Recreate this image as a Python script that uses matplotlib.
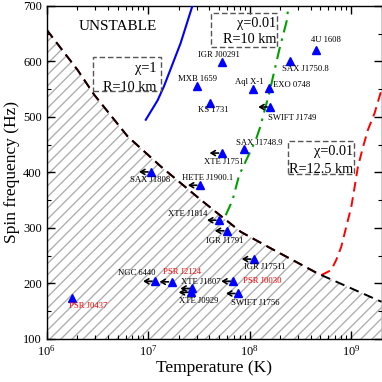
import matplotlib
matplotlib.use("Agg")
import matplotlib.pyplot as plt
import matplotlib.transforms as mtransforms
from matplotlib.patches import Rectangle
from matplotlib.ticker import MultipleLocator, LogLocator, NullFormatter

plt.rcParams['font.family'] = ['Liberation Serif', 'DejaVu Serif']
plt.rcParams['mathtext.fontset'] = 'custom'
plt.rcParams['mathtext.rm'] = 'Liberation Serif'
plt.rcParams['mathtext.it'] = 'Liberation Serif:italic'
plt.rcParams['hatch.linewidth'] = 1.0

# r-mode instability window boundaries
bound_T = [1e6, 2.01e6, 2.94e6, 6.28e6, 1.35e7, 3.24e7, 8.2e7, 1.75e8, 4.71e8, 2.0e9]
bound_f = [657, 585, 540, 465, 410, 352, 293, 260, 218, 167]

red_T = [1e6, 2.01e6, 2.94e6, 6.28e6, 1.35e7, 3.24e7, 8.2e7, 1.75e8, 4.71e8, 5.08e8,
         6.38e8, 7.14e8, 8.02e8, 8.98e8, 1.007e9, 1.087e9, 1.17e9, 1.315e9, 1.47e9,
         1.71e9, 2.0e9]
red_f = [657, 585, 540, 465, 410, 352, 293, 260, 218, 215,
         224, 242, 266, 302, 338, 374, 410, 446, 477, 507, 549]

blue_T = [9.48e6, 1.24e7, 1.43e7, 2.09e7, 2.73e7]
blue_f = [495, 530, 555, 633, 700]

green_T = [5.82e7, 6.79e7, 7.89e7, 1.153e8, 1.274e8, 1.563e8, 1.963e8, 2.34e8, 2.41e8]
green_f = [323, 350, 395, 459, 482, 543, 621, 675, 700]

# sources
names = ['IGR J00291', '4U 1608', 'SAX J1750.8', 'MXB 1659', 'Aql X-1', 'EXO 0748',
         'KS 1731', 'SWIFT J1749', 'SAX J1748.9', 'XTE J1751', 'SAX J1808',
         'HETE J1900.1', 'XTE J1814', 'IGR J1791', 'IGR J17511', 'PSR J0030',
         'XTE J1807', 'XTE J0929', 'SWIFT J1756', 'NGC 6440', 'PSR J2124', 'PSR J0437']
temps = [5.3e7, 4.5e8, 2.5e8, 3.06e7, 1.07e8, 1.56e8,
         4.1e7, 1.6e8, 8.85e7, 5.3e7, 1.07e7,
         3.24e7, 5.0e7, 5.96e7, 1.10e8, 6.9e7,
         2.73e7, 2.63e7, 7.7e7, 1.17e7, 1.70e7, 1.79e6]
freqs = [599, 620, 601, 556, 550, 552,
         526, 518, 442, 435, 401,
         377, 314, 295, 244, 204,
         191, 184, 182, 204, 203, 173]
upper_limit = [False, False, False, False, False, False,
               False, True, False, True, True,
               True, True, True, True, True,
               True, True, True, True, True, False]

# label placement (pixel offsets from the marker, alignment)
label_pos = {
    'IGR J00291': (-2.5, 7.4, 'center'), '4U 1608': (10, 10, 'center'),
    'SAX J1750.8': (15.7, -7.6, 'center'), 'MXB 1659': (0, 6.7, 'center'),
    'Aql X-1': (-3.7, 7.6, 'center'), 'EXO 0748': (4, 3.3, 'left'),
    'KS 1731': (2.5, -7.6, 'center'), 'SWIFT J1749': (22.4, -11, 'center'),
    'SAX J1748.9': (15, 6.3, 'center'), 'XTE J1751': (1.7, -9, 'center'),
    'SAX J1808': (-1.4, -7.7, 'center'), 'HETE J1900.1': (7.4, 7.3, 'center'),
    'XTE J1814': (-11.6, 6.7, 'right'), 'IGR J1791': (-2.2, -10, 'center'),
    'IGR J17511': (10.6, -8, 'center'), 'PSR J0030': (10, 0, 'left'),
    'XTE J1807': (8, 6.8, 'center'), 'XTE J0929': (7.5, -8.5, 'center'),
    'SWIFT J1756': (16.9, -9.4, 'center'), 'NGC 6440': (-18.2, 8.3, 'center'),
    'PSR J2124': (10.5, 10, 'center'), 'PSR J0437': (16, -7.7, 'center'),
}

fig = plt.figure(figsize=(3.82, 3.82), dpi=100)
ax = fig.add_axes([0.1223, 0.1126, 0.8764, 0.8717])

ax.fill_between(bound_T, bound_f, 100, facecolor='white', edgecolor='#b0b0b0',
                hatch='///', linewidth=0, zorder=1)
ax.plot(red_T, red_f, color='red', lw=1.4, ls=(0, (5, 3)), zorder=2)
ax.plot(bound_T, bound_f, color='black', lw=1.4, ls=(0, (5, 3)), zorder=3)
ax.plot(blue_T, blue_f, color='blue', lw=1.5, zorder=3)
ax.plot(green_T, green_f, color='#00a000', lw=1.5, ls=(0, (6, 3, 1.2, 3)), zorder=3)

ax.plot(temps, freqs, ls='none', marker='^', ms=5.5, color='blue', zorder=5)

for name, T, f, lim in zip(names, temps, freqs, upper_limit):
    dx, dy, ha = label_pos[name]
    col = 'red' if name.startswith('PSR') else 'black'
    ax.annotate(name, (T, f), xytext=(dx, dy), textcoords='offset pixels',
                ha=ha, va='center', fontsize=6.2, color=col, zorder=6)
    if lim:
        head = mtransforms.offset_copy(ax.transData, fig=fig, x=-12, y=0, units='dots')
        tail = mtransforms.offset_copy(ax.transData, fig=fig, x=-3, y=0, units='dots')
        ax.annotate('', xy=(T, f), xycoords=head, xytext=(T, f), textcoords=tail,
                    arrowprops=dict(arrowstyle='->,head_length=0.3,head_width=0.18',
                                    color='black', lw=1.2, shrinkA=0, shrinkB=0),
                    zorder=4)

# boxes
boxes = [(0.138, 0.745, 0.203, 0.102), (0.491, 0.877, 0.197, 0.102),
         (0.721, 0.495, 0.197, 0.100)]
for x0, y0, w, h in boxes:
    ax.add_patch(Rectangle((x0, y0), w, h, transform=ax.transAxes, fill=False,
                           ec='#555555', lw=1.0, ls=(0, (4, 2)), zorder=4))
box_text = [(0.329, 0.813, 'χ=1'), (0.329, 0.756, 'R=10 km'),
            (0.686, 0.948, 'χ=0.01'), (0.686, 0.898, 'R=10 km'),
            (0.916, 0.562, 'χ=0.01'), (0.916, 0.508, 'R=12.5 km')]
for x, y, s in box_text:
    ax.text(x, y, s, transform=ax.transAxes, ha='right', va='center', fontsize=10.3)

ax.text(0.213, 0.937, 'UNSTABLE', transform=ax.transAxes, ha='center', va='center',
        fontsize=11)

ax.set_xscale('log')
ax.set_xlim(1e6, 2e9)
ax.set_ylim(100, 700)
ax.yaxis.set_major_locator(MultipleLocator(100))
ax.yaxis.set_minor_locator(MultipleLocator(50))
ax.xaxis.set_minor_locator(LogLocator(base=10, subs=range(2, 10), numticks=20))
ax.xaxis.set_minor_formatter(NullFormatter())
ax.tick_params(which='both', direction='in', top=True, right=True, labelsize=9)
ax.tick_params(which='major', length=6, width=1.0)
ax.tick_params(which='minor', length=3, width=0.8)
for sp in ax.spines.values():
    sp.set_linewidth(1.0)

ax.set_xlabel('Temperature (K)', fontsize=12.5, labelpad=1)
ax.set_ylabel('Spin frequency (Hz)', fontsize=12.5, labelpad=2)

fig.savefig('out.png', dpi=100)
